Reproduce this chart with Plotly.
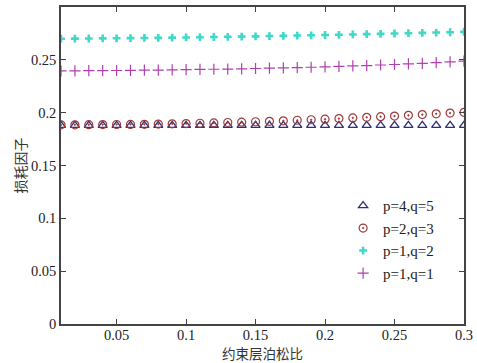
import plotly.graph_objects as go

x_vals = [0.01, 0.02, 0.03, 0.04, 0.05, 0.06, 0.07, 0.08, 0.09, 0.10,
          0.11, 0.12, 0.13, 0.14, 0.15, 0.16, 0.17, 0.18, 0.19, 0.20,
          0.21, 0.22, 0.23, 0.24, 0.25, 0.26, 0.27, 0.28, 0.29, 0.30]

p4q5 = [0.1880] * 30
p2q3 = [0.1885, 0.1885, 0.1886, 0.1887, 0.1888, 0.1889, 0.1890, 0.1892, 0.1894, 0.1897,
        0.1900, 0.1903, 0.1907, 0.1910, 0.1914, 0.1918, 0.1923, 0.1928, 0.1933, 0.1938,
        0.1944, 0.1950, 0.1956, 0.1962, 0.1968, 0.1975, 0.1982, 0.1989, 0.1996, 0.2003]
p1q2 = [0.2700, 0.2701, 0.2702, 0.2703, 0.2704, 0.2705, 0.2707, 0.2708, 0.2710, 0.2712,
        0.2714, 0.2716, 0.2718, 0.2720, 0.2722, 0.2725, 0.2727, 0.2730, 0.2732, 0.2735,
        0.2737, 0.2740, 0.2743, 0.2746, 0.2749, 0.2752, 0.2755, 0.2758, 0.2761, 0.2765]
p1q1 = [0.2395, 0.2396, 0.2397, 0.2398, 0.2399, 0.2400, 0.2402, 0.2403, 0.2405, 0.2407,
        0.2409, 0.2411, 0.2413, 0.2415, 0.2418, 0.2421, 0.2424, 0.2427, 0.2430, 0.2434,
        0.2438, 0.2442, 0.2446, 0.2451, 0.2456, 0.2461, 0.2467, 0.2473, 0.2480, 0.2487]

x_ticks = [0.05, 0.1, 0.15, 0.2, 0.25, 0.3]
x_ticktext = ["0.05", "0.1", "0.15", "0.2", "0.25", "0.3"]
y_ticks = [0, 0.05, 0.1, 0.15, 0.2, 0.25]
y_ticktext = ["0", "0.05", "0.1", "0.15", "0.2", "0.25"]
x_title = "约束层泊松比"
y_title = "损耗因子"

FONT = "Liberation Serif"
CJK = "Noto Sans CJK SC"

fig = go.Figure()
fig.add_trace(go.Scatter(x=x_vals, y=p4q5, mode="markers", name="p=4,q=5",
                         marker=dict(symbol="triangle-up-open", size=8, color="#2e2e7a",
                                     line=dict(width=1.3))))
fig.add_trace(go.Scatter(x=x_vals, y=p2q3, mode="markers", name="p=2,q=3",
                         marker=dict(symbol="circle-open-dot", size=8, color="#a03a3a",
                                     line=dict(width=1.2))))
fig.add_trace(go.Scatter(x=x_vals, y=p1q2, mode="markers", name="p=1,q=2",
                         marker=dict(symbol="cross", size=6.5, color="#40d8c8",
                                     line=dict(width=0))))
fig.add_trace(go.Scatter(x=x_vals, y=p1q1, mode="markers", name="p=1,q=1",
                         marker=dict(symbol="cross-thin-open", size=8, color="#b040b0",
                                     line=dict(width=1.2, color="#b040b0"))))

axis_common = dict(showline=True, linecolor="#444444", linewidth=1.5, mirror="ticks",
                   ticks="inside", ticklen=5, tickcolor="#444444", showgrid=False,
                   zeroline=False, automargin=False,
                   tickfont=dict(family=FONT, size=14.5, color="#222222"))

fig.update_layout(
    width=477, height=363,
    margin=dict(l=61, r=13, t=7, b=39),
    paper_bgcolor="white", plot_bgcolor="white",
    showlegend=True,
    font=dict(family=FONT),
    legend=dict(x=0.70, y=0.425, xanchor="left", yanchor="top",
                bgcolor="rgba(255,255,255,0)", borderwidth=0,
                font=dict(family=FONT, size=15, color="#222222"),
                itemwidth=30),
    xaxis=dict(range=[0.01, 0.3], tickvals=x_ticks, ticktext=x_ticktext,
               ticklabelstandoff=-3, **axis_common),
    yaxis=dict(range=[0, 0.3], tickvals=y_ticks, ticktext=y_ticktext,
               **axis_common),
    annotations=[
        dict(text=x_title, xref="paper", yref="paper", x=0.5, y=-0.093,
             xanchor="center", yanchor="middle", showarrow=False,
             font=dict(family=CJK, size=13.5, color="#333333")),
        dict(text=y_title, xref="paper", yref="paper", x=-0.102, y=0.5,
             xanchor="center", yanchor="middle", showarrow=False, textangle=-90,
             font=dict(family=CJK, size=14, color="#333333")),
    ],
)

fig.write_html("out.html")
